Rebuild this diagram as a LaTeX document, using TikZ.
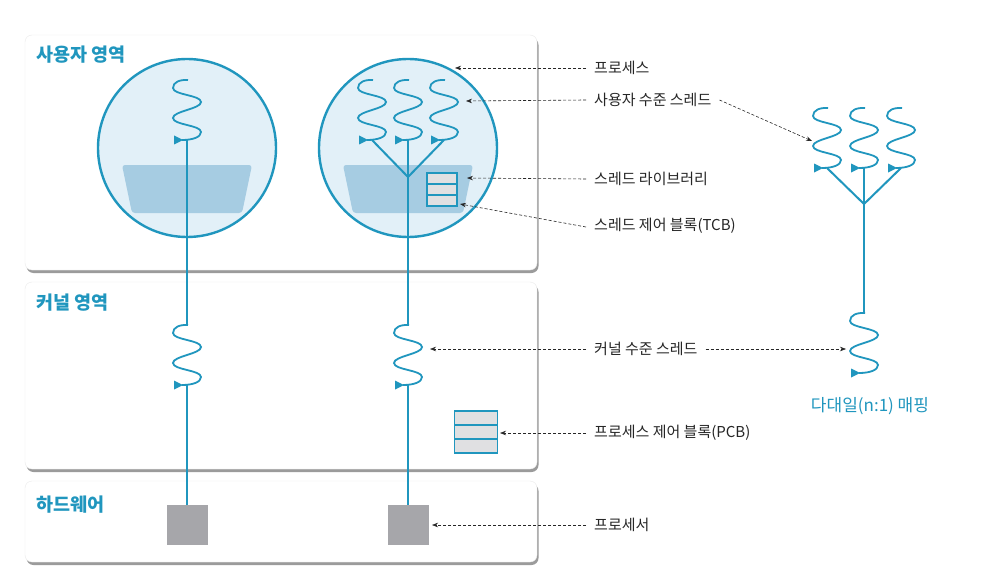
\documentclass[tikz,border=0pt]{standalone}
\usepackage{fontspec}
\setmainfont{Noto Sans CJK KR}
\usetikzlibrary{positioning,shadows,calc,arrows.meta}
\definecolor{tl}{RGB}{32,150,190}
\definecolor{cfill}{RGB}{226,240,248}
\definecolor{libfill}{RGB}{166,204,226}
\definecolor{tcbfill}{RGB}{224,224,226}
\definecolor{cpufill}{RGB}{166,166,170}

\tikzset{
 thr/.pic={
  \draw[tl,line width=1.8pt] (1,0) .. controls (-7,-0.5) and (-14,2) .. (-14,8)
   .. controls (-14,15) and (14,15) .. (14,22)
   .. controls (14,29) and (-14,31) .. (-14,38)
   .. controls (-14,45) and (14,45) .. (14,52)
   .. controls (14,57) and (6,60) .. (-5,60);
  \fill[tl] (-13,55.5) -- (-4,60) -- (-13,64.5) -- cycle;
  \coordinate (-top) at (0,0);
  \coordinate (-end) at (0,60);
 },
 lib/.pic={
  \fill[libfill, rounded corners=3pt] (-65,17) -- (65,17) -- (55,65) -- (-55,65) -- cycle;
 }
}

\begin{document}
\begin{tikzpicture}[x=1pt, y=-1pt,
 panel/.style={draw=black!8, fill=white, rounded corners=7pt, inner sep=0pt,
  drop shadow={shadow xshift=1.5pt, shadow yshift=-3pt, opacity=.6, fill=black!65}},
 proc/.style={circle, draw=tl, fill=cfill, line width=2.4pt, minimum size=178pt, inner sep=0pt},
 cpu/.style={fill=cpufill, minimum width=41pt, minimum height=40pt, inner sep=0pt},
 blk/.style={draw=tl, fill=tcbfill, line width=1.8pt, inner sep=0pt,
  path picture={\foreach \k in {1,2} \draw[tl, line width=1.8pt]
   ($(path picture bounding box.north west)!\k/3!(path picture bounding box.south west)$) --
   ($(path picture bounding box.north east)!\k/3!(path picture bounding box.south east)$);}},
 area/.style={text=tl, font=\fontsize{18.5}{22}\selectfont\bfseries, anchor=west, inner sep=0pt},
 lbl/.style={text=black!85, font=\fontsize{15}{18}\selectfont, anchor=west, inner sep=0pt},
 ptr/.style={-{Stealth[length=6pt,width=4.5pt]}, dash pattern=on 3pt off 2pt, line width=.6pt, black!85},
 wire/.style={tl, line width=2pt}]

 \useasboundingbox (0,0) rectangle (985,583);
 \fill[white] (0,0) rectangle (985,583);

 % three layers
 \node[panel, minimum width=512pt, minimum height=235pt] (US) at (281,152.5) {};
 \node[panel, minimum width=512pt, minimum height=187pt] (KS) at (281,375.5) {};
 \node[panel, minimum width=512pt, minimum height=81pt] (HW) at (281,521.5) {};
 \node[area] at (36,55) {사용자 영역};
 \node[area] at (36,303) {커널 영역};
 \node[area] at (36,505) {하드웨어};

 % processes
 \node[proc] (P1) at (187,148) {};
 \node[proc] (P2) at (408,148) {};
 \pic at (187,148) {lib};
 \pic at (408,148) {lib};
 \node[blk, minimum width=30pt, minimum height=33pt] (TCB) at (442,189.5) {};
 \node[blk, minimum width=43pt, minimum height=42pt] (PCB) at (476,432) {};

 % threads
 \pic (t1) at (187,80) {thr};
 \pic (t2) at (372,80) {thr};
 \pic (t3) at (408,80) {thr};
 \pic (t4) at (444,80) {thr};
 \pic (k1) at (187,325) {thr};
 \pic (k2) at (408,325) {thr};
 \coordinate (f1) at (408,177);

 \node[cpu] (C1) at (187,525) {};
 \node[cpu] (C2) at (408,525) {};

 \draw[wire] (t1-end) -- (k1-top);
 \draw[wire] (k1-end) -- (C1.north);
 \draw[wire] (t2-end) -- (f1) -- (t4-end);
 \draw[wire] (t3-end) -- (k2-top);
 \draw[wire] (k2-end) -- (C2.north);

 % n:1 mapping
 \pic (r1) at (827,108) {thr};
 \pic (r2) at (864,108) {thr};
 \pic (r3) at (901,108) {thr};
 \pic (k3) at (864,313) {thr};
 \coordinate (f2) at (864,204);
 \draw[wire] (r1-end) -- (f2) -- (r3-end);
 \draw[wire] (r2-end) -- (k3-top);
 \node[text=tl, font=\fontsize{17}{20}\selectfont] (NM) at (870,406) {다대일(n:1) 매핑};

 % labels
 \node[lbl] (l1) at (594,68) {프로세스};
 \node[lbl] (l2) at (594,100) {사용자 수준 스레드};
 \node[lbl] (l3) at (594,179) {스레드 라이브러리};
 \node[lbl] (l4) at (594,226) {스레드 제어 블록(TCB)};
 \node[lbl] (l5) at (594,349) {커널 수준 스레드};
 \node[lbl] (l6) at (594,433) {프로세스 제어 블록(PCB)};
 \node[lbl] (l7) at (594,525) {프로세서};

 \coordinate (a1) at (455,68);
 \coordinate (a2) at (466,101);
 \coordinate (a3) at (467,178);
 \coordinate (a4) at (460,204);
 \coordinate (a5) at (430,349);
 \coordinate (a6) at (500,433);
 \coordinate (a7) at (432,525);
 \coordinate (b2) at (812,141);
 \coordinate (b5) at (846,349);

 \draw[ptr] ([xshift=-8pt]l1.west) -- (a1);
 \draw[ptr] ([xshift=-8pt]l2.west) -- (a2);
 \draw[ptr] ([xshift=-8pt]l3.west) -- (a3);
 \draw[ptr] ([xshift=-8pt,yshift=-1pt]l4.west) -- (a4);
 \draw[ptr] ([xshift=-8pt]l5.west) -- (a5);
 \draw[ptr] ([xshift=-8pt]l6.west) -- (a6);
 \draw[ptr] ([xshift=-8pt]l7.west) -- (a7);
 \draw[ptr] ([xshift=8pt]l2.east) -- (b2);
 \draw[ptr] ([xshift=8pt]l5.east) -- (b5);
\end{tikzpicture}
\end{document}
